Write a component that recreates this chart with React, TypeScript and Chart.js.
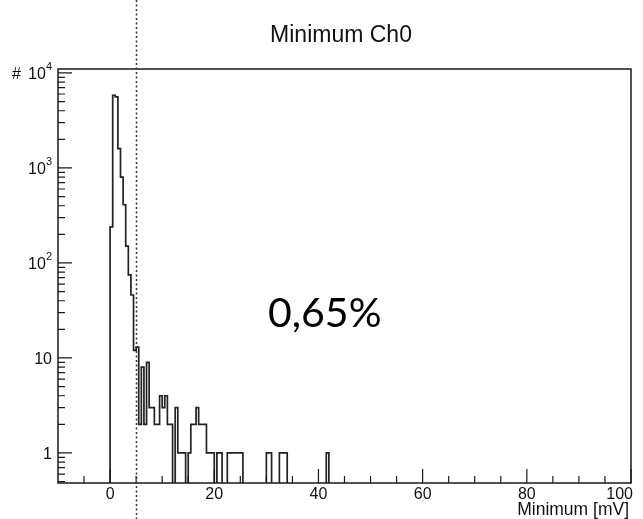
import React, { useEffect, useRef } from "react";
import { Chart, registerables } from "chart.js";

Chart.register(...registerables);

// ---- text ----
const TITLE = "Minimum Ch0";
const X_TITLE = "Minimum [mV]";
const Y_TITLE = "#";
const ANNOTATION = "0,65%";

// ---- axes ----
const X_MIN = -10;
const X_MAX = 100;
const Y_MIN = 0.483;
const Y_MAX = 11000;
const CUT_VALUE = 5; // dotted vertical line
const BIN_WIDTH = 0.5;

// ---- histogram: non-empty bins (low edge, entries) ----
const binLow = [
  0, 0.5, 1, 1.5, 2, 2.5, 3, 3.5, 4, 4.5, 5, 5.5, 6, 6.5, 7, 7.5, 8, 8.5, 9, 9.5,
  10, 10.5, 11, 11.5, 12.5, 13, 13.5, 14, 15, 15.5, 16, 16.5, 17, 17.5, 18, 18.5,
  19, 19.5, 20.5, 21, 22.5, 23, 23.5, 24, 24.5, 25, 30, 30.5, 32.5, 33, 33.5, 41.5,
];
const binCount = [
  240, 5800, 5600, 1600, 800, 410, 150, 75, 46, 12, 13, 2, 8, 2, 9, 3, 3, 2, 2, 4,
  3, 4, 2, 2, 3, 1, 1, 1, 1, 2, 2, 3, 2, 2, 2, 1,
  1, 1, 1, 1, 1, 1, 1, 1, 1, 1, 1, 1, 1, 1, 1, 1,
];

// ---- tick labels ----
const xTickValues = [0, 20, 40, 60, 80, 100];
const xTickLabels = ["0", "20", "40", "60", "80", "100"];
const xMinorStep = 5;
const yTickValues = [1, 10, 100, 1000, 10000];
const yTickBase = ["1", "10", "10", "10", "10"];
const yTickExp = ["", "", "2", "3", "4"];

const ZERO = 1e-3; // empty bins: drawn below the axis and clipped

function buildOutline() {
  const pts: { x: number; y: number }[] = [{ x: X_MIN, y: ZERO }];
  for (let i = 0; i < binLow.length; i++) {
    if (i > 0 && binLow[i] - binLow[i - 1] > BIN_WIDTH + 1e-9) {
      pts.push({ x: binLow[i - 1] + BIN_WIDTH, y: ZERO });
    }
    pts.push({ x: binLow[i], y: binCount[i] });
  }
  pts.push({ x: binLow[binLow.length - 1] + BIN_WIDTH, y: ZERO });
  pts.push({ x: X_MAX, y: ZERO });
  return pts;
}

const FONT = '"Liberation Sans", Arial, Helvetica, sans-serif';

const overlayPlugin = {
  id: "rootOverlay",
  afterDraw(chart: any) {
    const { ctx, chartArea: a, scales } = chart;
    const xs = scales.x;
    const ys = scales.y;
    ctx.save();

    // frame
    ctx.strokeStyle = "#1a1a1a";
    ctx.lineWidth = 1.5;
    ctx.strokeRect(a.left, a.top, a.right - a.left, a.bottom - a.top);

    // x ticks (inside)
    ctx.lineWidth = 1.2;
    ctx.beginPath();
    for (let v = X_MIN + xMinorStep; v < X_MAX + 1e-9; v += xMinorStep) {
      const px = xs.getPixelForValue(v);
      const len = xTickValues.includes(v) ? 14 : 7;
      ctx.moveTo(px, a.bottom);
      ctx.lineTo(px, a.bottom - len);
    }
    // y ticks (inside)
    for (let d = 0.1; d <= 10000; d *= 10) {
      for (let m = 1; m <= 9; m++) {
        const v = m * d;
        if (v < Y_MIN || v > Y_MAX) continue;
        const py = ys.getPixelForValue(v);
        const len = m === 1 ? 14 : 7;
        ctx.moveTo(a.left, py);
        ctx.lineTo(a.left + len, py);
      }
    }
    ctx.stroke();

    ctx.fillStyle = "#111";
    // x tick labels
    ctx.font = `16px ${FONT}`;
    ctx.textAlign = "center";
    ctx.textBaseline = "alphabetic";
    xTickValues.forEach((v, i) => {
      const w = ctx.measureText(xTickLabels[i]).width;
      let cx = xs.getPixelForValue(v);
      if (cx + w / 2 > 633) cx = 633 - w / 2;
      ctx.fillText(xTickLabels[i], cx, a.bottom + 16);
    });

    // y tick labels
    const right = 52;
    yTickValues.forEach((v, i) => {
      const py = ys.getPixelForValue(v);
      const exp = yTickExp[i];
      ctx.textAlign = "right";
      if (exp) {
        ctx.font = `11px ${FONT}`;
        const w = ctx.measureText(exp).width;
        ctx.fillText(exp, right, py - 3);
        ctx.font = `16px ${FONT}`;
        ctx.fillText(yTickBase[i], right - w, py + 6);
      } else {
        ctx.font = `16px ${FONT}`;
        ctx.fillText(yTickBase[i], right, py + 6);
      }
    });

    // y title
    ctx.font = `16px ${FONT}`;
    ctx.textAlign = "left";
    ctx.fillText(Y_TITLE, 12, ys.getPixelForValue(10000) + 6);

    // x title
    ctx.font = `17.5px ${FONT}`;
    ctx.textAlign = "right";
    ctx.fillText(X_TITLE, a.right - 2, a.bottom + 32);

    // title
    ctx.font = `23px ${FONT}`;
    ctx.textAlign = "center";
    ctx.fillText(TITLE, 341, 42);

    // annotation
    ctx.font = `41px Lato, "Open Sans", sans-serif`;
    ctx.textAlign = "left";
    ctx.fillStyle = "#000";
    ctx.fillText(ANNOTATION, 268, 327);

    // dotted cut line
    const cx = Math.round(xs.getPixelForValue(CUT_VALUE)) + 0.5;
    ctx.strokeStyle = "#333";
    ctx.lineWidth = 1.5;
    ctx.setLineDash([2, 2.5]);
    ctx.beginPath();
    ctx.moveTo(cx, 0);
    ctx.lineTo(cx, chart.height);
    ctx.stroke();

    ctx.restore();
  },
};

export default function App() {
  const ref = useRef<HTMLCanvasElement | null>(null);

  useEffect(() => {
    if (!ref.current) return;
    const chart = new Chart(ref.current, {
      type: "line",
      data: {
        datasets: [
          {
            data: buildOutline(),
            borderColor: "#222",
            borderWidth: 1.7,
            pointRadius: 0,
            fill: false,
            stepped: true,
            tension: 0,
          },
        ],
      },
      options: {
        responsive: false,
        devicePixelRatio: 1,
        animation: false,
        events: [],
        layout: { padding: { top: 69, right: 12, left: 0, bottom: 0 } },
        plugins: {
          legend: { display: false },
          title: { display: false },
          tooltip: { enabled: false },
        },
        scales: {
          x: {
            type: "linear",
            min: X_MIN,
            max: X_MAX,
            grid: { display: false },
            border: { display: false },
            ticks: { display: false },
            afterFit: (s: any) => {
              s.height = 36;
            },
          },
          y: {
            type: "logarithmic",
            min: Y_MIN,
            max: Y_MAX,
            grid: { display: false },
            border: { display: false },
            ticks: { display: false },
            afterFit: (s: any) => {
              s.width = 58;
            },
          },
        },
      },
      plugins: [overlayPlugin],
    });
    return () => chart.destroy();
  }, []);

  return (
    <div style={{ position: "fixed", left: 0, top: 0, width: 643, height: 519, background: "#fff" }}>
      <canvas ref={ref} width={643} height={519} style={{ display: "block" }} />
    </div>
  );
}
